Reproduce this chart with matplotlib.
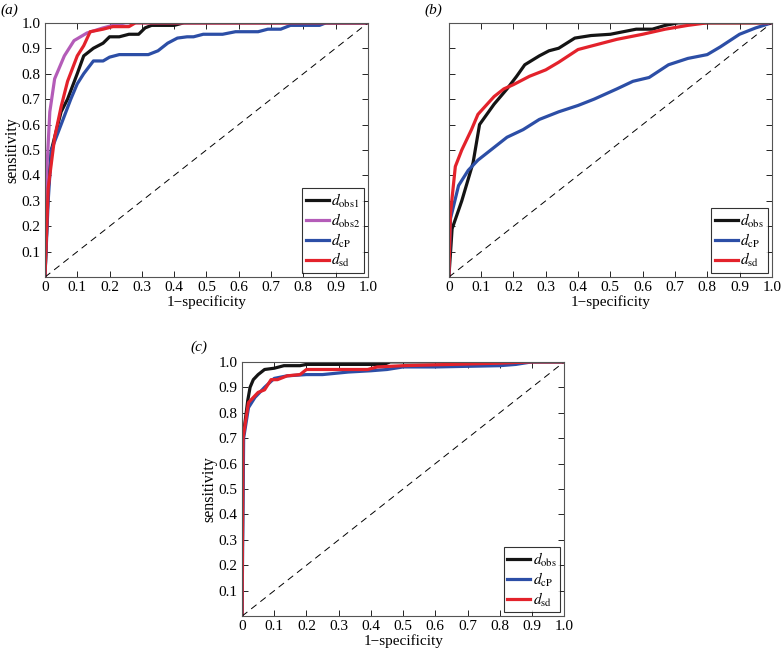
import matplotlib
matplotlib.use('Agg')
import matplotlib.pyplot as plt

plt.rcParams['font.family'] = ['Liberation Serif', 'DejaVu Serif']
plt.rcParams['mathtext.fontset'] = 'stix'

# ROC curves: (1-specificity, sensitivity)
# panel (a)
a_obs1_x = [0, 0.01, 0.02, 0.05, 0.07, 0.1, 0.12, 0.15, 0.18, 0.2, 0.23, 0.26, 0.29, 0.31, 0.33, 0.4, 0.43, 1.0]
a_obs1_y = [0, 0.35, 0.5, 0.65, 0.7, 0.8, 0.87, 0.9, 0.92, 0.945, 0.945, 0.955, 0.955, 0.98, 0.99, 0.99, 1.0, 1.0]
a_obs2_x = [0, 0.005, 0.015, 0.03, 0.06, 0.09, 0.13, 0.18, 0.21, 0.25, 1.0]
a_obs2_y = [0, 0.4, 0.65, 0.78, 0.87, 0.93, 0.96, 0.98, 0.99, 1.0, 1.0]
a_cp_x = [0, 0.01, 0.02, 0.05, 0.08, 0.1, 0.12, 0.15, 0.18, 0.2, 0.23, 0.32, 0.35, 0.38, 0.41, 0.44, 0.46,
          0.49, 0.55, 0.59, 0.66, 0.69, 0.73, 0.76, 0.85, 0.87, 1.0]
a_cp_y = [0, 0.3, 0.5, 0.6, 0.7, 0.76, 0.8, 0.85, 0.85, 0.865, 0.875, 0.875, 0.89, 0.92, 0.94, 0.945, 0.945,
          0.955, 0.955, 0.965, 0.965, 0.975, 0.975, 0.99, 0.99, 1.0, 1.0]
a_sd_x = [0, 0.01, 0.03, 0.05, 0.07, 0.1, 0.12, 0.14, 0.18, 0.21, 0.26, 0.28, 1.0]
a_sd_y = [0, 0.35, 0.55, 0.67, 0.77, 0.87, 0.91, 0.965, 0.975, 0.985, 0.985, 1.0, 1.0]

# panel (b)
b_obs_x = [0, 0.01, 0.04, 0.075, 0.095, 0.14, 0.18, 0.21, 0.235, 0.28, 0.31, 0.34, 0.39, 0.44, 0.5, 0.52,
           0.58, 0.63, 0.67, 0.71, 1.0]
b_obs_y = [0, 0.19, 0.3, 0.45, 0.6, 0.68, 0.74, 0.79, 0.835, 0.87, 0.89, 0.9, 0.94, 0.95, 0.955, 0.96,
           0.975, 0.975, 0.99, 1.0, 1.0]
b_cp_x = [0, 0.005, 0.03, 0.06, 0.09, 0.13, 0.18, 0.23, 0.28, 0.34, 0.4, 0.45, 0.52, 0.57, 0.62, 0.68,
          0.74, 0.8, 0.84, 0.9, 0.95, 1.0]
b_cp_y = [0, 0.23, 0.36, 0.42, 0.46, 0.5, 0.55, 0.58, 0.62, 0.65, 0.675, 0.7, 0.74, 0.77, 0.785, 0.835,
          0.86, 0.875, 0.905, 0.955, 0.98, 1.0]
b_sd_x = [0, 0.005, 0.02, 0.04, 0.07, 0.09, 0.14, 0.17, 0.2, 0.25, 0.3, 0.34, 0.4, 0.46, 0.52, 0.6, 0.67,
          0.74, 0.8, 1.0]
b_sd_y = [0, 0.25, 0.435, 0.5, 0.58, 0.64, 0.71, 0.74, 0.757, 0.79, 0.815, 0.845, 0.895, 0.915, 0.935,
          0.955, 0.975, 0.99, 1.0, 1.0]

# panel (c)
c_obs_x = [0, 0.003, 0.018, 0.025, 0.035, 0.05, 0.07, 0.1, 0.13, 0.18, 0.2, 0.44, 0.46, 1.0]
c_obs_y = [0, 0.7, 0.85, 0.9, 0.93, 0.95, 0.97, 0.975, 0.985, 0.985, 0.99, 0.99, 1.0, 1.0]
c_cp_x = [0, 0.005, 0.02, 0.04, 0.07, 0.1, 0.14, 0.2, 0.25, 0.33, 0.4, 0.45, 0.5, 0.6, 0.8, 0.85, 0.9, 1.0]
c_cp_y = [0, 0.7, 0.82, 0.86, 0.9, 0.935, 0.945, 0.95, 0.95, 0.96, 0.965, 0.97, 0.98, 0.98, 0.985, 0.99,
          1.0, 1.0]
c_sd_x = [0, 0.003, 0.02, 0.05, 0.07, 0.09, 0.11, 0.14, 0.18, 0.2, 0.39, 0.42, 0.5, 0.65, 0.8, 0.9, 1.0]
c_sd_y = [0, 0.7, 0.84, 0.88, 0.89, 0.93, 0.93, 0.945, 0.95, 0.97, 0.97, 0.98, 0.985, 0.99, 0.995, 1.0, 1.0]

xticks = [0, 0.1, 0.2, 0.3, 0.4, 0.5, 0.6, 0.7, 0.8, 0.9, 1.0]
xtick_labels = ['0', '0.1', '0.2', '0.3', '0.4', '0.5', '0.6', '0.7', '0.8', '0.9', '1.0']
yticks = [0.1, 0.2, 0.3, 0.4, 0.5, 0.6, 0.7, 0.8, 0.9, 1.0]
ytick_labels = ['0.1', '0.2', '0.3', '0.4', '0.5', '0.6', '0.7', '0.8', '0.9', '1.0']

BLACK = '#141414'
PURPLE = '#b45cb8'
BLUE = '#2c4ea6'
RED = '#e3222b'
LW = 2.3

fig = plt.figure(figsize=(7.82, 6.52), dpi=100)
ax_a = fig.add_axes([0.0575, 0.575, 0.413, 0.39])
ax_b = fig.add_axes([0.574, 0.575, 0.413, 0.39])
ax_c = fig.add_axes([0.3095, 0.055, 0.412, 0.39])


def style(ax, ylabels=True):
    ax.plot([0, 1], [0, 1], color='black', lw=0.7, dashes=(7, 5))
    ax.set_xlim(0, 1)
    ax.set_ylim(0, 1)
    ax.set_xticks(xticks)
    ax.set_xticklabels(xtick_labels)
    ax.set_yticks(yticks)
    if ylabels:
        ax.set_yticklabels(ytick_labels)
        ax.set_ylabel('sensitivity', fontsize=11.5, labelpad=1)
    else:
        ax.set_yticklabels([])
    ax.set_xlabel('1\u2212specificity', fontsize=11, labelpad=1)
    ax.tick_params(direction='in', top=True, right=True, length=4, width=0.6,
                   labelsize=11, pad=3, colors='black')
    for s in ax.spines.values():
        s.set_linewidth(0.8)
        s.set_color('#555555')


def legend(ax):
    leg = ax.legend(loc='lower right', fontsize=11, frameon=True, fancybox=False,
                    handlelength=1.5, handletextpad=0.15, borderpad=0.25,
                    labelspacing=0.12, borderaxespad=0.25)
    leg.get_frame().set_edgecolor('black')
    leg.get_frame().set_linewidth(0.8)


# (a)
ax_a.plot(a_obs1_x, a_obs1_y, color=BLACK, lw=LW, label=r'$d_{\mathrm{obs1}}$')
ax_a.plot(a_obs2_x, a_obs2_y, color=PURPLE, lw=LW, label=r'$d_{\mathrm{obs2}}$')
ax_a.plot(a_cp_x, a_cp_y, color=BLUE, lw=LW, label=r'$d_{\mathrm{cP}}$')
ax_a.plot(a_sd_x, a_sd_y, color=RED, lw=LW, label=r'$d_{\mathrm{sd}}$')
style(ax_a)
legend(ax_a)

# (b)
ax_b.plot(b_obs_x, b_obs_y, color=BLACK, lw=LW, label=r'$d_{\mathrm{obs}}$')
ax_b.plot(b_cp_x, b_cp_y, color=BLUE, lw=LW, label=r'$d_{\mathrm{cP}}$')
ax_b.plot(b_sd_x, b_sd_y, color=RED, lw=LW, label=r'$d_{\mathrm{sd}}$')
style(ax_b, ylabels=False)
legend(ax_b)

# (c)
ax_c.plot(c_obs_x, c_obs_y, color=BLACK, lw=LW, label=r'$d_{\mathrm{obs}}$')
ax_c.plot(c_cp_x, c_cp_y, color=BLUE, lw=LW, label=r'$d_{\mathrm{cP}}$')
ax_c.plot(c_sd_x, c_sd_y, color=RED, lw=LW, label=r'$d_{\mathrm{sd}}$')
style(ax_c)
legend(ax_c)

fig.text(0.001, 0.985, '(a)', fontsize=11, style='italic', va='center')
fig.text(0.543, 0.985, '(b)', fontsize=11, style='italic', va='center')
fig.text(0.243, 0.468, '(c)', fontsize=11, style='italic', va='center')

fig.savefig('out.png', dpi=100)
